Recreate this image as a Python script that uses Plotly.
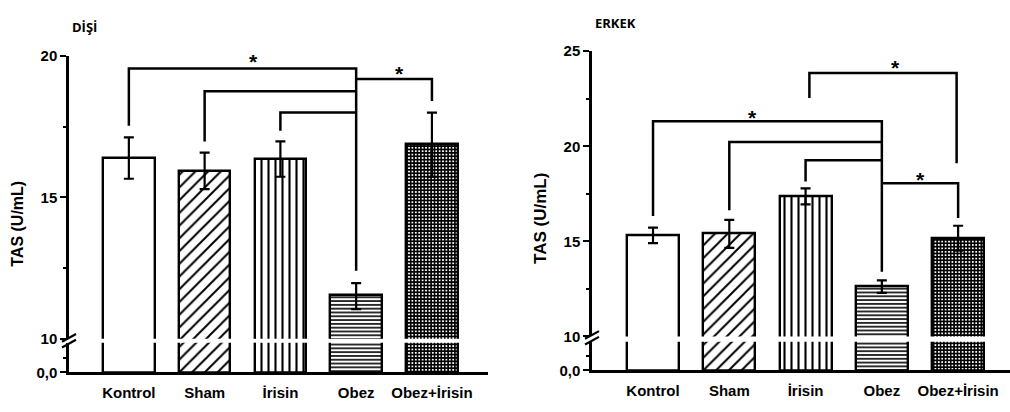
import plotly.graph_objects as go

W, H = 1010, 412

categories = ["Kontrol", "Sham", "İrisin", "Obez", "Obez+İrisin"]

# DİŞİ (female) values
female_mean = [16.41, 15.93, 16.37, 11.56, 16.88]
female_upper = [17.12, 16.58, 16.98, 11.97, 18.00]
female_lower = [15.66, 15.29, 15.73, 11.05, 15.73]

# ERKEK (male) values
male_mean = [15.32, 15.42, 17.39, 12.64, 15.17]
male_upper = [15.72, 16.13, 17.79, 12.95, 15.82]
male_lower = [14.91, 14.66, 16.94, 12.29, 14.51]

# significance brackets: (x_left, x_right, y_top, left_leg_bottom, right_leg_bottom)
female_brackets = [
    (0, 3, 19.56, 17.53, 12.41),
    (1, 3, 18.75, 16.98, None),
    (2, 3, 18.00, 17.36, None),
    (3, 4, 19.19, None, 18.41),
]
female_stars_x = [1.64, 3.57]
female_stars_y = [19.97, 19.56]

male_brackets = [
    (0, 3, 21.32, 16.33, 13.40),
    (1, 3, 20.22, 16.63, None),
    (2, 3, 19.26, 18.15, None),
    (3, 4, 18.05, None, 16.23),
    (2.05, 3.98, 23.85, 22.54, 19.10),
]
male_stars_x = [1.31, 3.18, 3.51]
male_stars_y = [21.79, 24.41, 18.50]

pattern_shapes = ["", "/", "|", "-", "+"]
pattern_sizes = [8, 9, 7, 3.8, 3.4]
pattern_solid = [0.2, 0.22, 0.3, 0.42, 0.72]

FONT = "Liberation Sans"
xpos = list(range(len(categories)))

fig = go.Figure()


def px_x(p):
    return p / W


def px_y(p):
    return 1 - p / H


def add_panel(means, upper, lower, brackets, sx, sy, xa, ya_up, ya_low):
    err_up = [u - m for u, m in zip(upper, means)]
    err_dn = [m - l for m, l in zip(means, lower)]
    marker = dict(
        color="white",
        line=dict(color="black", width=2.4),
        pattern=dict(shape=pattern_shapes, size=pattern_sizes, solidity=pattern_solid,
                     fgcolor="black", bgcolor="white", fillmode="replace"),
    )
    fig.add_trace(go.Bar(x=xpos, y=means, width=0.68, marker=marker,
                         error_y=dict(type="data", symmetric=False, array=err_up, arrayminus=err_dn,
                                      color="black", thickness=2.2, width=5),
                         xaxis=xa, yaxis=ya_up, showlegend=False, hoverinfo="skip"))
    fig.add_trace(go.Bar(x=xpos, y=means, width=0.68, marker=marker,
                         xaxis=xa, yaxis=ya_low, showlegend=False, hoverinfo="skip"))
    bx, by = [], []
    for (x0, x1, yt, lb, rb) in brackets:
        xs, ys = [], []
        if lb is not None:
            xs.append(x0); ys.append(lb)
        xs += [x0, x1]; ys += [yt, yt]
        if rb is not None:
            xs.append(x1); ys.append(rb)
        bx += xs + [None]; by += ys + [None]
    fig.add_trace(go.Scatter(x=bx, y=by, mode="lines", line=dict(color="black", width=2.5),
                             xaxis=xa, yaxis=ya_up, showlegend=False, hoverinfo="skip"))
    for x, y in zip(sx, sy):
        fig.add_annotation(x=x, y=y, xref=xa, yref=ya_up, text="<b>*</b>", showarrow=False,
                           xanchor="center", yanchor="middle",
                           font=dict(family=FONT, size=21, color="black"), yshift=-5)


add_panel(female_mean, female_upper, female_lower, female_brackets,
          female_stars_x, female_stars_y, "x", "y", "y2")
add_panel(male_mean, male_upper, male_lower, male_brackets,
          male_stars_x, male_stars_y, "x2", "y3", "y4")

tickfont = dict(family=FONT, size=15, color="black", weight="bold")

xcommon = dict(tickmode="array", tickvals=xpos, ticktext=categories, showline=True,
               linecolor="black", linewidth=2.5, ticks="", tickfont=tickfont,
               showgrid=False, zeroline=False, ticklabelstandoff=5, fixedrange=True)
yup_common = dict(showline=True, linecolor="black", linewidth=2.5, ticks="outside",
                  ticklen=6, tickwidth=2, tickcolor="black", tickfont=tickfont,
                  showgrid=False, zeroline=False, dtick=5, fixedrange=True,
                  minor=dict(dtick=2.5, ticks="outside", ticklen=3, tickwidth=2, tickcolor="black"))
ylow_common = dict(showline=True, linecolor="black", linewidth=2.5, ticks="outside",
                   ticklen=6, tickwidth=2, tickcolor="black", tickfont=tickfont,
                   showgrid=False, zeroline=False, range=[0, 1], tickvals=[0], ticktext=["0,0"],
                   fixedrange=True,
                   minor=dict(tickvals=[0.5], ticks="outside", ticklen=3, tickwidth=2, tickcolor="black"))

fig.update_layout(
    width=W, height=H, margin=dict(l=0, r=0, t=0, b=0),
    plot_bgcolor="white", paper_bgcolor="white", bargap=0,
    xaxis=dict(domain=[px_x(69), px_x(488)], range=[-0.79, 4.74], anchor="y2", **xcommon),
    yaxis=dict(domain=[px_y(344), px_y(49)], range=[10, 20], anchor="x", **yup_common),
    yaxis2=dict(domain=[px_y(379), px_y(348)], anchor="x", **ylow_common),
    xaxis2=dict(domain=[px_x(592), 1.0], range=[-0.8, 4.68], anchor="y4", **xcommon),
    yaxis3=dict(domain=[px_y(341.5), px_y(44)], range=[10, 25], anchor="x2", **yup_common),
    yaxis4=dict(domain=[px_y(377), px_y(347)], anchor="x2", **ylow_common),
)

# axis break slashes
for cx, cy in [(69, 343), (592, 340)]:
    for off in (0, 6):
        fig.add_shape(type="line", xref="paper", yref="paper",
                      x0=px_x(cx - 7), y0=px_y(cy + off + 4), x1=px_x(cx + 7), y1=px_y(cy + off - 4),
                      line=dict(color="black", width=2.2))

# y axis titles
for x, y, s in [(18, 224, 16), (541, 219, 17)]:
    fig.add_annotation(x=px_x(x), y=px_y(y), xref="paper", yref="paper", text="TAS (U/mL)",
                       textangle=-90, showarrow=False, xanchor="center", yanchor="middle",
                       font=dict(family=FONT, size=s, color="black", weight="bold"))

# panel titles
for x, y, t in [(84, 19, "DİŞİ"), (615, 15, "ERKEK")]:
    fig.add_annotation(x=px_x(x), y=px_y(y), xref="paper", yref="paper", text=t, showarrow=False,
                       xanchor="center", yanchor="middle",
                       font=dict(family="Open Sans", size=13, color="black", weight="bold"))

fig.write_html("out.html", config={"displayModeBar": False},
               post_script="document.body.style.margin='0';")
